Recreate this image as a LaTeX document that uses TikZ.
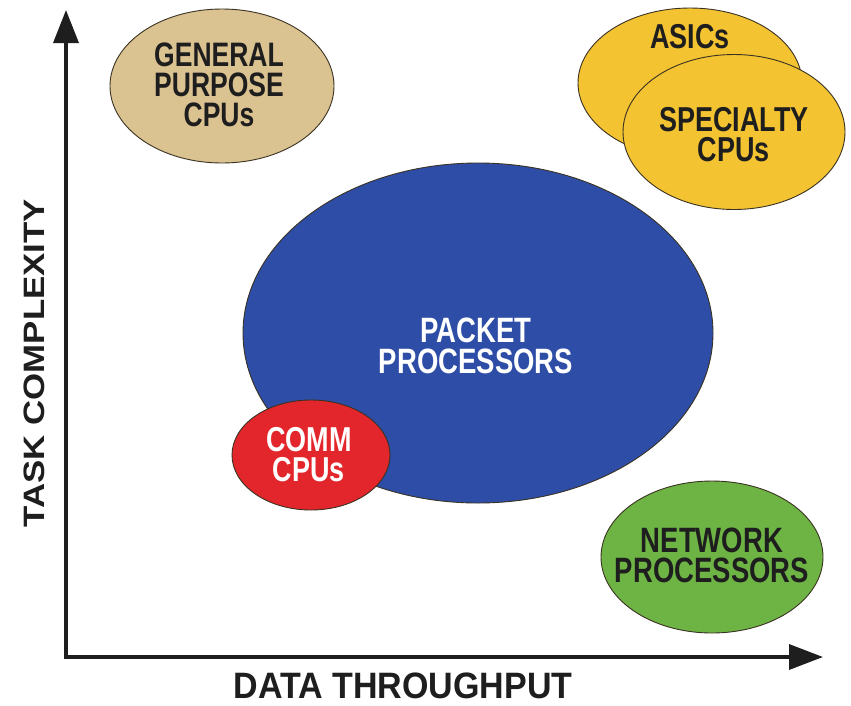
\documentclass[tikz,border=0pt]{standalone}
\usepackage{fontspec}
\setmainfont{Liberation Sans}
\usetikzlibrary{arrows.meta,shapes.geometric}
\definecolor{tanfill}{HTML}{DBC291}
\definecolor{goldfill}{HTML}{F3C332}
\definecolor{bluefill}{HTML}{2E4DA6}
\definecolor{redfill}{HTML}{E3262B}
\definecolor{greenfill}{HTML}{6DB445}
\definecolor{edge}{HTML}{3A3222}
\definecolor{ink}{HTML}{1E1E1E}
\begin{document}
\begin{tikzpicture}[x=1pt,y=-1pt,
  blob/.style={ellipse, draw=edge, line width=0.9pt, inner sep=0pt},
  lbl/.style={align=center, font=\fontsize{27}{23.4}\selectfont\bfseries, text=ink,
    inner sep=0pt, yscale=1.28},
  axlbl/.style={font=\fontsize{34}{36}\selectfont\bfseries, text=ink, inner sep=0pt},
  axis/.style={line width=3.5pt, draw=ink,
    {Triangle[length=33pt,width=25pt]}-{Triangle[length=34pt,width=25pt]}}]
\useasboundingbox[fill=white] (0,0) rectangle (851,705);

% axes
\coordinate (ytop) at (66,10);
\coordinate (orig) at (66,657);
\coordinate (xend) at (823,657);
\draw[axis] (ytop) -- (orig) -- (xend);
\node[axlbl, anchor=base, yscale=1.08] (xlab) at (403,698) {DATA THROUGHPUT};
\node[axlbl, font=\fontsize{29.5}{32}\selectfont\bfseries, rotate=90, xscale=1.18, anchor=base] (ylab) at (44,363) {TASK COMPLEXITY};

% packet processors
\node[blob, fill=bluefill, minimum width=470pt, minimum height=340pt] (pkt) at (478,333) {};
\node[lbl, text=white, font=\fontsize{27.5}{24.6}\selectfont\bfseries] (pkttext) at (476,346) {PACKET\\PROCESSORS};

% comm cpus
\node[blob, fill=redfill, minimum width=158pt, minimum height=110pt] (comm) at (311,455) {};
\node[lbl, text=white] (commtext) at (309,455) {COMM\\CPUs};

% general purpose
\node[blob, fill=tanfill, minimum width=224pt, minimum height=154pt] (gp) at (222,86) {};
\node[lbl, font=\fontsize{26.5}{23.4}\selectfont\bfseries] (gptext) at (219,85) {GENERAL\\PURPOSE\\CPUs};

% asics and specialty
\node[blob, fill=goldfill, minimum width=224pt, minimum height=150pt] (asic) at (690,83) {};
\node[lbl] (asictext) at (690,37) {ASICs};
\node[blob, fill=goldfill, minimum width=222pt, minimum height=155pt] (spec) at (734,132) {};
\node[lbl] (spectext) at (734,135) {SPECIALTY\\CPUs};

% network processors
\node[blob, fill=greenfill, minimum width=222pt, minimum height=152pt] (net) at (712,557) {};
\node[lbl, font=\fontsize{27.5}{23.4}\selectfont\bfseries] (nettext) at (712,555) {NETWORK\\PROCESSORS};
\end{tikzpicture}
\end{document}
